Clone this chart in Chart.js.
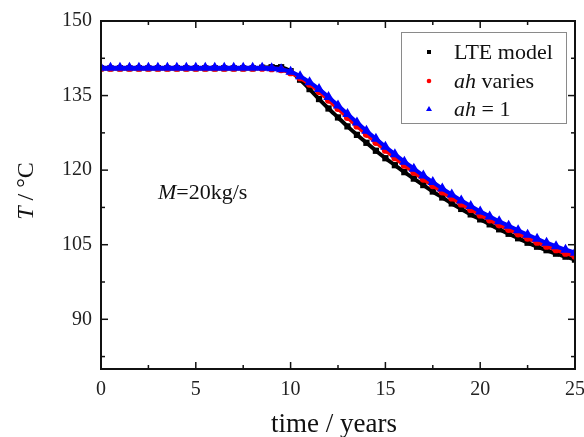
<!DOCTYPE html>
<html>
<head>
<meta charset="utf-8">
<script src="https://cdn.jsdelivr.net/npm/chart.js@4.4.0/dist/chart.umd.min.js"></script>
<style>
  html, body { margin: 0; padding: 0; background: #fff; }
  #grafico { display: block; }
</style>
</head>
<body>
<canvas id="grafico" width="584" height="437"></canvas>
<script>
// tiempo en años (cada medio año)
const anios = [0, 0.5, 1, 1.5, 2, 2.5, 3, 3.5, 4, 4.5, 5, 5.5, 6, 6.5, 7, 7.5, 8, 8.5, 9, 9.5,
  10, 10.5, 11, 11.5, 12, 12.5, 13, 13.5, 14, 14.5, 15, 15.5, 16, 16.5, 17, 17.5, 18, 18.5, 19, 19.5,
  20, 20.5, 21, 21.5, 22, 22.5, 23, 23.5, 24, 24.5, 25];

// LTE model
const tempLTE = [140.5, 140.5, 140.5, 140.5, 140.5, 140.5, 140.5, 140.5, 140.5, 140.5, 140.5, 140.5, 140.5, 140.5, 140.5, 140.5, 140.5, 140.6, 140.7, 140.7,
  139.9, 138.2, 136.3, 134.3, 132.4, 130.6, 128.8, 127.1, 125.5, 123.9, 122.4, 121.0, 119.6, 118.3, 117.0, 115.7, 114.5, 113.3, 112.2, 111.1,
  110.1, 109.1, 108.1, 107.2, 106.3, 105.4, 104.6, 103.9, 103.2, 102.6, 102.0];

// ah varies
const tempAhVaria = [140.5, 140.5, 140.5, 140.5, 140.5, 140.5, 140.5, 140.5, 140.5, 140.5, 140.5, 140.5, 140.5, 140.5, 140.5, 140.5, 140.5, 140.5, 140.4, 140.2,
  139.6, 138.6, 137.3, 135.8, 134.1, 132.4, 130.6, 128.9, 127.2, 125.6, 124.0, 122.5, 121.0, 119.6, 118.2, 116.9, 115.6, 114.4, 113.2, 112.1,
  111.0, 110.0, 109.0, 108.1, 107.2, 106.3, 105.5, 104.7, 104.0, 103.3, 102.7];

// ah = 1
const tempAhUno = [140.6, 140.6, 140.6, 140.6, 140.6, 140.6, 140.6, 140.6, 140.6, 140.6, 140.6, 140.6, 140.6, 140.6, 140.6, 140.6, 140.6, 140.6, 140.5, 140.3,
  139.8, 138.9, 137.7, 136.3, 134.7, 133.0, 131.3, 129.6, 127.9, 126.3, 124.7, 123.2, 121.7, 120.3, 118.9, 117.6, 116.3, 115.1, 113.9, 112.8,
  111.7, 110.7, 109.7, 108.8, 107.9, 107.0, 106.2, 105.4, 104.7, 104.0, 103.4];

// marcas de los ejes
const ticksX = [0, 5, 10, 15, 20, 25];
const menoresX = [2.5, 7.5, 12.5, 17.5, 22.5];
const ticksY = [90, 105, 120, 135, 150];
const menoresY = [82.5, 97.5, 112.5, 127.5, 142.5];

const fuente = "'Liberation Serif', 'Times New Roman', serif";

const aPuntos = (valores) => anios.map((x, i) => ({ x: x, y: valores[i] }));

// escribe texto con partes en cursiva
const escribir = (ctx, partes, x, y, tam) => {
  let cx = x;
  partes.forEach(([texto, cursiva]) => {
    ctx.font = `${cursiva ? "italic " : ""}${tam}px ${fuente}`;
    ctx.fillText(texto, cx, y);
    cx += ctx.measureText(texto).width;
  });
  return cx - x;
};

const medir = (ctx, partes, tam) => {
  let w = 0;
  partes.forEach(([texto, cursiva]) => {
    ctx.font = `${cursiva ? "italic " : ""}${tam}px ${fuente}`;
    w += ctx.measureText(texto).width;
  });
  return w;
};

const marcoEjes = {
  id: "marcoEjes",
  afterDatasetsDraw(chart) {
    const { ctx, chartArea: a, scales: { x, y } } = chart;
    ctx.save();
    ctx.strokeStyle = "#111";
    ctx.lineWidth = 1.5;
    const linea = (x1, y1, x2, y2) => {
      ctx.beginPath();
      ctx.moveTo(x1, y1);
      ctx.lineTo(x2, y2);
      ctx.stroke();
    };
    ticksX.forEach((v) => {
      const px = x.getPixelForValue(v);
      linea(px, a.bottom, px, a.bottom - 7);
      linea(px, a.top, px, a.top + 7);
    });
    menoresX.forEach((v) => {
      const px = x.getPixelForValue(v);
      linea(px, a.bottom, px, a.bottom - 4);
      linea(px, a.top, px, a.top + 4);
    });
    ticksY.forEach((v) => {
      const py = y.getPixelForValue(v);
      linea(a.left, py, a.left + 7, py);
      linea(a.right, py, a.right - 7, py);
    });
    menoresY.forEach((v) => {
      const py = y.getPixelForValue(v);
      linea(a.left, py, a.left + 4, py);
      linea(a.right, py, a.right - 4, py);
    });
    ctx.lineWidth = 2;
    ctx.strokeRect(a.left, a.top, a.right - a.left, a.bottom - a.top);
    ctx.restore();
  },
};

const textos = {
  id: "textos",
  afterDraw(chart) {
    const { ctx, chartArea: a } = chart;
    ctx.save();
    ctx.fillStyle = "#111";
    ctx.textBaseline = "alphabetic";

    // leyenda
    ctx.fillStyle = "#fff";
    ctx.fillRect(401.5, 32.5, 165, 91);
    ctx.strokeStyle = "#8a8a8a";
    ctx.lineWidth = 1;
    ctx.strokeRect(401.5, 32.5, 165, 91);

    const filas = [
      { y: 52, color: "#000", forma: "cuadro", partes: [["LTE model", false]] },
      { y: 81, color: "#ff0000", forma: "circulo", partes: [["ah", true], [" varies", false]] },
      { y: 109, color: "#0000ff", forma: "triangulo", partes: [["ah", true], [" = 1", false]] },
    ];
    filas.forEach((f) => {
      ctx.fillStyle = f.color;
      ctx.beginPath();
      if (f.forma === "cuadro") ctx.rect(427, f.y - 2, 4, 4);
      if (f.forma === "circulo") ctx.arc(429, f.y, 2.3, 0, Math.PI * 2);
      if (f.forma === "triangulo") {
        ctx.moveTo(429, f.y - 3);
        ctx.lineTo(432, f.y + 2);
        ctx.lineTo(426, f.y + 2);
        ctx.closePath();
      }
      ctx.fill();
      ctx.fillStyle = "#111";
      escribir(ctx, f.partes, 454, f.y + 7, 22);
    });

    // anotacion
    escribir(ctx, [["M", true], ["=20kg/s", false]], 158, 199, 22);

    // titulo eje x
    const tx = [["time / years", false]];
    const wx = medir(ctx, tx, 27);
    escribir(ctx, tx, (a.left + a.right) / 2 - wx / 2 - 4, 432, 27);

    // titulo eje y
    const ty = [["T", true], [" / \u00B0C", false]];
    const wy = medir(ctx, ty, 24);
    ctx.translate(33, (a.top + a.bottom) / 2 - 4);
    ctx.rotate(-Math.PI / 2);
    escribir(ctx, ty, -wy / 2, 0, 24);
    ctx.restore();
  },
};

const data = {
  datasets: [
    {
      label: "LTE model",
      data: aPuntos(tempLTE),
      borderColor: "#000",
      backgroundColor: "#000",
      borderWidth: 4,
      pointStyle: "rect",
      pointRadius: 1.6,
      order: 2,
    },
    {
      label: "ah varies",
      data: aPuntos(tempAhVaria),
      borderColor: "#ff0000",
      backgroundColor: "#ff0000",
      borderWidth: 4,
      pointStyle: "circle",
      pointRadius: 1.6,
      order: 1,
    },
    {
      label: "ah = 1",
      data: aPuntos(tempAhUno),
      borderColor: "#0000ff",
      backgroundColor: "#0000ff",
      borderWidth: 4,
      pointStyle: "triangle",
      pointRadius: 2,
      order: 0,
    },
  ],
};

const config = {
  type: "scatter",
  data: data,
  options: {
    responsive: false,
    animation: false,
    showLine: true,
    layout: { padding: { top: 19, right: 9, left: 0, bottom: 0 } },
    plugins: {
      legend: { display: false },
      tooltip: { enabled: false },
    },
    elements: { line: { tension: 0.3 }, point: { borderWidth: 0 } },
    scales: {
      x: {
        type: "linear",
        min: 0,
        max: 25,
        afterBuildTicks: (s) => { s.ticks = ticksX.map((v) => ({ value: v })); },
        afterFit: (s) => { s.height = 68; s.paddingLeft = 0; s.paddingRight = 0; },
        grid: { display: false, drawTicks: false },
        border: { display: false },
        ticks: { color: "#222", padding: 9, font: { family: fuente, size: 20 } },
      },
      y: {
        type: "linear",
        min: 80,
        max: 150,
        afterBuildTicks: (s) => { s.ticks = ticksY.map((v) => ({ value: v })); },
        afterFit: (s) => { s.width = 101; },
        grid: { display: false, drawTicks: false },
        border: { display: false },
        ticks: { color: "#222", padding: 9, font: { family: fuente, size: 20 } },
      },
    },
  },
  plugins: [marcoEjes, textos],
};

const graficoElement = document.getElementById("grafico");
const grafico = new Chart(graficoElement, config);
</script>
</body>
</html>
